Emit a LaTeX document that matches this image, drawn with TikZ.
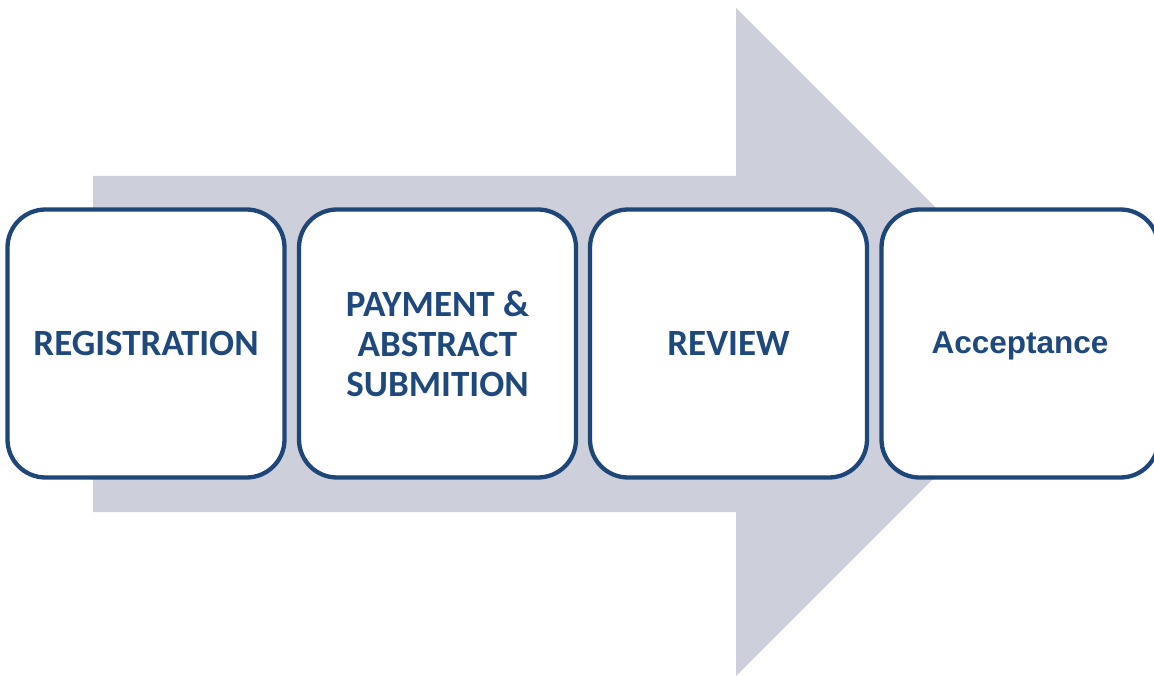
\documentclass[tikz,border=0pt]{standalone}
\usepackage{fontspec}
\newfontfamily\calfont{Carlito}
\newfontfamily\arfont{Liberation Sans}
\definecolor{arrowgray}{RGB}{205,208,218}
\definecolor{navy}{RGB}{31,70,120}
\definecolor{txtblue}{RGB}{31,73,125}
\begin{document}
\begin{tikzpicture}[x=1pt,y=-1pt,
  stagebox/.style={draw=navy, line width=4.3pt, fill=white, rounded corners=38pt,
    minimum width=277pt, minimum height=268pt, inner sep=0pt, align=center,
    text=txtblue},
  calt/.style={font=\calfont\bfseries\fontsize{37}{40}\selectfont},
  art/.style={font=\arfont\bfseries\fontsize{31.5}{38}\selectfont}]
\useasboundingbox (0,0) rectangle (1154,676);
\fill[arrowgray] (93,176) -- (736,176) -- (736,8) -- (1070,342) -- (736,676) -- (736,512) -- (93,512) -- cycle;
\node[stagebox, calt] (reg) at (146,343.5) {REGISTRATION};
\node[stagebox, calt] (pay) at (437.5,343.5) {PAYMENT \&\\ABSTRACT\\SUBMITION};
\node[stagebox, calt] (rev) at (728.5,343.5) {REVIEW};
\node[stagebox] (acc) at (1020,343.5) {};
\node[art, text=txtblue, inner sep=0pt] (acctext) at (1020,345.5) {Acceptance};
\end{tikzpicture}
\end{document}
